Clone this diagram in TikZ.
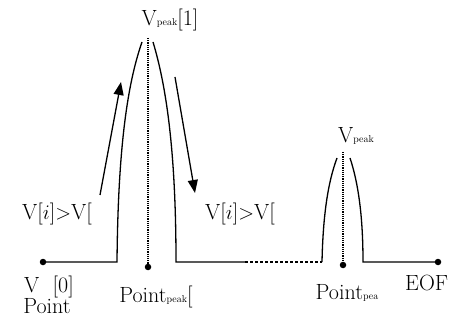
\documentclass[tikz,border=0pt]{standalone}
\usetikzlibrary{arrows.meta}

\newcommand{\pk}[1]{{\fontsize{10}{10}\selectfont #1}}

\begin{document}
\begin{tikzpicture}[x=1pt,y=-1pt]

    \tikzset{
      wave/.style={line width=1.3pt},
      centre/.style={densely dotted, line width=1.2pt},
      dot/.style={circle, fill, inner sep=0pt, minimum size=6.5pt},
      lbl/.style={font=\fontsize{22}{24}\selectfont, inner sep=0pt},
      move/.style={line width=1.3pt, -{Triangle[length=13pt,width=10pt]}},
    }
    \useasboundingbox (0,0) rectangle (449,320);

	% base line and the two peaks
	\node[dot] (start) at (43,262) {};
	\coordinate (b1l) at (117,262);
	\coordinate (t1l) at (142,42);
	\coordinate (t1r) at (153,42);
	\coordinate (b1r) at (176,262);
	\coordinate (gap) at (245,262);
	\coordinate (b2l) at (322,262);
	\coordinate (t2l) at (337,158);
	\coordinate (t2r) at (350,158);
	\coordinate (b2r) at (363,262);
	\node[dot] (eof) at (438,262) {};

	\draw[wave] (start.center) -- (b1l) .. controls (118,150) and (127,85) .. (t1l);
	\draw[wave] (t1r) .. controls (166,85) and (176,150) .. (b1r) -- (gap);
	\draw[wave, dashed, dash pattern=on 3pt off 2pt] (gap) -- (b2l);
	\draw[wave] (b2l) .. controls (323,215) and (328,182) .. (t2l);
	\draw[wave] (t2r) .. controls (358,182) and (363,215) .. (b2r) -- (eof.center);

	% peak centres
	\coordinate (c1) at (148,38);
	\node[dot] (p1) at (148,267) {};
	\coordinate (c2) at (343,152);
	\node[dot] (p2) at (343,265) {};
	\draw[centre] (c1) -- (p1.center);
	\draw[centre] (c2) -- (p2.center);

	% rising and falling
	\coordinate (upfrom) at (100,195);
	\coordinate (upto) at (121,82);
	\coordinate (downfrom) at (175,77);
	\coordinate (downto) at (195,193);
	\draw[move] (upfrom) -- (upto);
	\draw[move] (downfrom) -- (downto);

	\node[lbl] (vpeak1) at (170,20) {V\pk{peak}[1]};
	\node[lbl] (vpeak2) at (356,136) {V\pk{peak}};
	\node[lbl] (rise) at (57,214) {V[$i$]$>$V[};
	\node[lbl] (fall) at (240,214) {V[$i$]$>$V[};
	\node[lbl] (v0) at (49,287) {V\ \ [0]};
	\node[lbl] (pt0) at (47,306) {Point};
	\node[lbl] (pt1) at (156,297) {Point\pk{peak}[};
	\node[lbl] (pt2) at (347,293) {Point\pk{pea}};
	\node[lbl, anchor=west] (eoflbl) at (405,283) {EOF};

\end{tikzpicture}
\end{document}
